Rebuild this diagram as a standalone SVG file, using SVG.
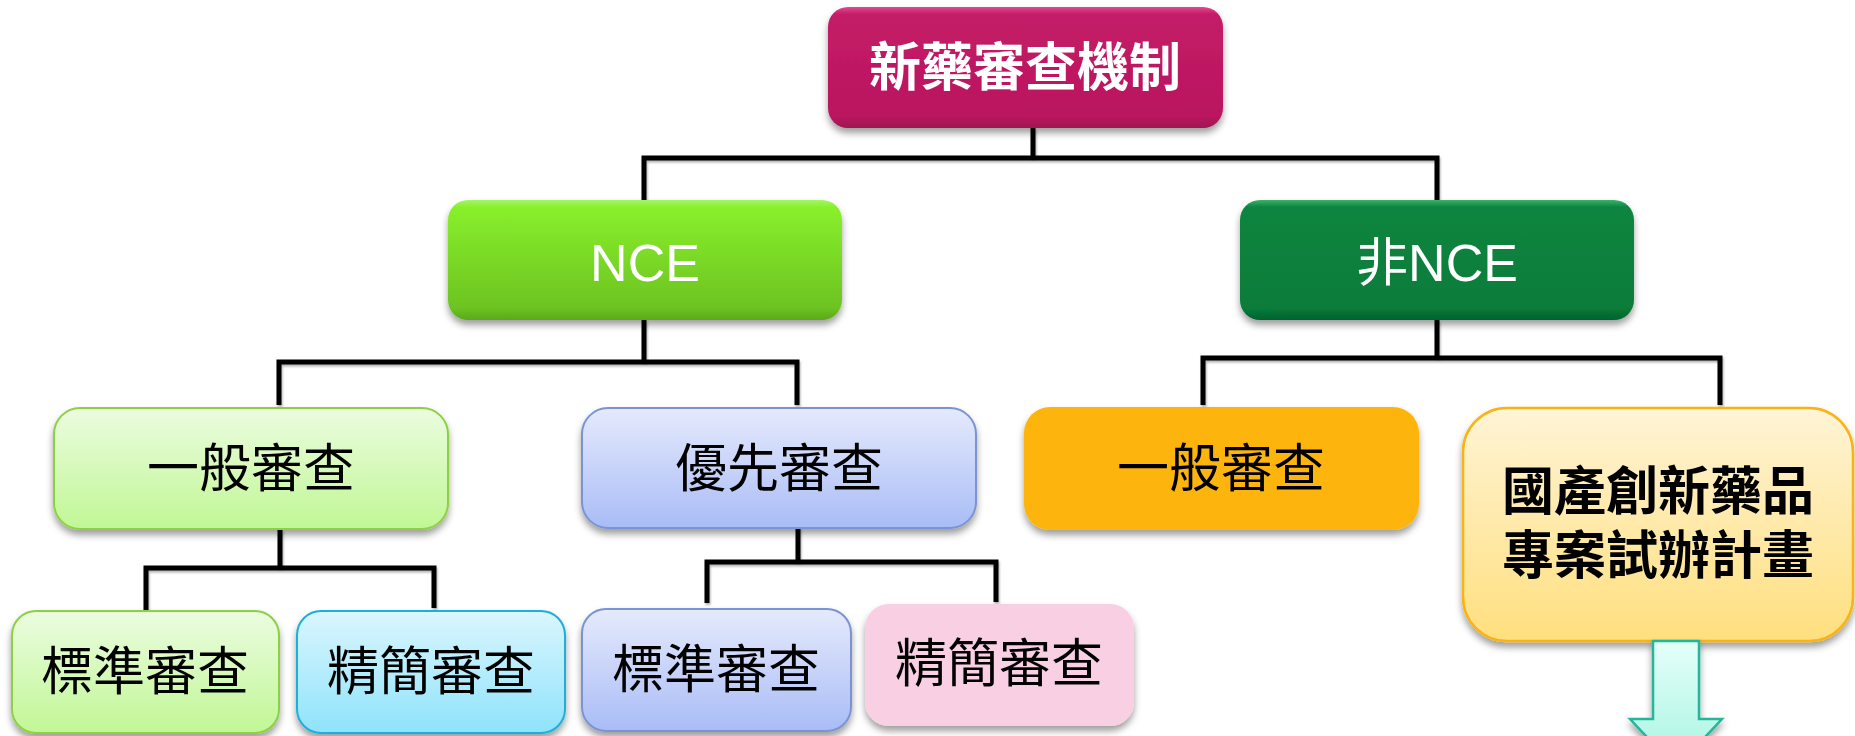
<svg xmlns="http://www.w3.org/2000/svg" width="1855" height="736" viewBox="0 0 1855 736">
<defs>
<style>
.cjk{font-family:"Noto Sans CJK TC","Noto Sans CJK SC",sans-serif;font-size:52px;text-anchor:middle;fill:#000}
.lat{font-family:"Liberation Sans","Noto Sans CJK TC",sans-serif;font-size:52px;text-anchor:middle;fill:#fff}
.bold{font-weight:bold}
.white{fill:#fff}
.conn{fill:none;stroke:#000;stroke-width:5;stroke-linejoin:miter;filter:url(#lsh)}
</style>
<filter id="sh" x="-10%" y="-20%" width="120%" height="150%">
<feDropShadow dx="0" dy="5" stdDeviation="3.5" flood-color="#000" flood-opacity="0.38"/>
</filter>
<filter id="lsh" filterUnits="userSpaceOnUse" x="0" y="0" width="1855" height="736">
<feDropShadow dx="1" dy="2" stdDeviation="1.2" flood-color="#000" flood-opacity="0.3"/>
</filter>
<linearGradient id="gTop" x1="0" y1="0" x2="0" y2="1">
<stop offset="0" stop-color="#E2498F"/><stop offset="0.06" stop-color="#C41C67"/><stop offset="0.9" stop-color="#BA165F"/><stop offset="1" stop-color="#9E1252"/>
</linearGradient>
<linearGradient id="gNce" x1="0" y1="0" x2="0" y2="1">
<stop offset="0" stop-color="#A4F56A"/><stop offset="0.06" stop-color="#88F02C"/><stop offset="0.9" stop-color="#6DC321"/><stop offset="1" stop-color="#5AA81A"/>
</linearGradient>
<linearGradient id="gNon" x1="0" y1="0" x2="0" y2="1">
<stop offset="0" stop-color="#3FAF6C"/><stop offset="0.06" stop-color="#0A853F"/><stop offset="0.9" stop-color="#077C3A"/><stop offset="1" stop-color="#05632E"/>
</linearGradient>
<linearGradient id="gGreen" x1="0" y1="0" x2="0" y2="1">
<stop offset="0" stop-color="#EBFCE0"/><stop offset="1" stop-color="#C1F795"/>
</linearGradient>
<linearGradient id="gBlue" x1="0" y1="0" x2="0" y2="1">
<stop offset="0" stop-color="#E5EAFC"/><stop offset="1" stop-color="#A9BCF6"/>
</linearGradient>
<linearGradient id="gCyan" x1="0" y1="0" x2="0" y2="1">
<stop offset="0" stop-color="#DAF6FE"/><stop offset="1" stop-color="#8FE3FB"/>
</linearGradient>
<linearGradient id="gYel" x1="0" y1="0" x2="0" y2="1">
<stop offset="0" stop-color="#FFF4D6"/><stop offset="1" stop-color="#FFDF7E"/>
</linearGradient>
<linearGradient id="gArr" x1="0" y1="0" x2="0" y2="1">
<stop offset="0" stop-color="#E4FFF9"/><stop offset="1" stop-color="#A8F4E2"/>
</linearGradient>
</defs>
<rect width="1855" height="736" fill="#fff"/>

<g id="connectors">
<path class="conn" d="M1033,128 V158"/>
<path class="conn" d="M644,200 V158 H1437 V200"/>
<path class="conn" d="M644,320 V362"/>
<path class="conn" d="M279,405 V362 H797 V405"/>
<path class="conn" d="M1437,320 V358"/>
<path class="conn" d="M1203,405 V358 H1720 V405"/>
<path class="conn" d="M280,529 V568"/>
<path class="conn" d="M146,610 V568 H434 V608"/>
<path class="conn" d="M798,528 V562"/>
<path class="conn" d="M707,603 V562 H996 V602"/>
</g>

<g id="node-top">
<rect x="828" y="7" width="395" height="121" rx="20" fill="url(#gTop)" filter="url(#sh)"/>
<text class="cjk bold white" x="1025" y="86">新藥審查機制</text>
</g>

<g id="node-nce">
<rect x="448" y="200" width="394" height="120" rx="20" fill="url(#gNce)" filter="url(#sh)"/>
<text class="lat" x="645" y="281">NCE</text>
</g>

<g id="node-nonnce">
<rect x="1240" y="200" width="394" height="120" rx="20" fill="url(#gNon)" filter="url(#sh)"/>
<text class="lat" x="1437" y="281">非NCE</text>
</g>

<g id="node-general1">
<rect x="54" y="408" width="394" height="121" rx="26" fill="url(#gGreen)" stroke="#8DD043" stroke-width="2" filter="url(#sh)"/>
<text class="cjk" x="251" y="487">一般審查</text>
</g>

<g id="node-priority">
<rect x="582" y="408" width="394" height="120" rx="26" fill="url(#gBlue)" stroke="#7A94D2" stroke-width="2" filter="url(#sh)"/>
<text class="cjk" x="779" y="487">優先審查</text>
</g>

<g id="node-general2">
<rect x="1024" y="407" width="395" height="123" rx="26" fill="#FDB50C" filter="url(#sh)"/>
<text class="cjk" x="1221" y="487">一般審查</text>
</g>

<g id="node-pilot">
<rect x="1463" y="408" width="390" height="233" rx="44" fill="url(#gYel)" stroke="#FAB312" stroke-width="2.5" filter="url(#sh)"/>
<text class="cjk bold" x="1658" y="510">國產創新藥品</text>
<text class="cjk bold" x="1658" y="574">專案試辦計畫</text>
</g>

<g id="node-arrow">
<path d="M1653,641 H1699 V719 H1722 L1676,768 L1630,719 H1653 Z" fill="url(#gArr)" stroke="#22B79B" stroke-width="2.5" filter="url(#sh)"/>
</g>

<g id="node-std1">
<rect x="12" y="611" width="267" height="122" rx="24" fill="url(#gGreen)" stroke="#8DD043" stroke-width="2" filter="url(#sh)"/>
<text class="cjk" x="145" y="690">標準審查</text>
</g>

<g id="node-brief1">
<rect x="297" y="611" width="268" height="122" rx="24" fill="url(#gCyan)" stroke="#1BAEDC" stroke-width="2" filter="url(#sh)"/>
<text class="cjk" x="431" y="690">精簡審查</text>
</g>

<g id="node-std2">
<rect x="582" y="609" width="269" height="122" rx="24" fill="url(#gBlue)" stroke="#7A94D2" stroke-width="2" filter="url(#sh)"/>
<text class="cjk" x="716" y="688">標準審查</text>
</g>

<g id="node-brief2">
<rect x="865" y="604" width="269" height="122" rx="24" fill="#F9CFE3" filter="url(#sh)"/>
<text class="cjk" x="999" y="682">精簡審查</text>
</g>
</svg>
